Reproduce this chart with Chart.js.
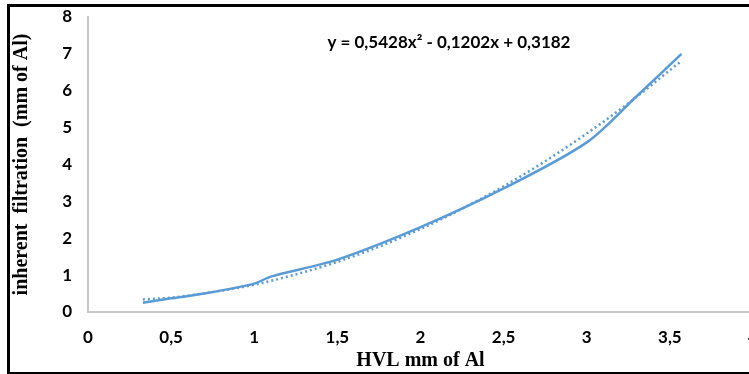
<!DOCTYPE html>
<html>
<head>
<meta charset="utf-8">
<script src="https://cdn.jsdelivr.net/npm/chart.js@4/dist/chart.umd.min.js"></script>
<style>
  html, body { margin: 0; padding: 0; background: #fff; overflow: hidden; }
  body { width: 749px; height: 374px; position: relative; }
  #wrap { position: absolute; left: 0; top: 0; width: 772px; height: 374px; }
  #frame { position: absolute; left: 7px; top: 4px; width: 780px; height: 365px;
           border: 3px solid #000; border-right: none; pointer-events: none; }
</style>
</head>
<body>
<div id="wrap"><canvas id="myChart" width="772" height="374"></canvas></div>
<div id="frame"></div>
<script>
// measured points (HVL vs inherent filtration)
var hvl = [0.33, 0.5, 0.7, 1.0, 1.1, 1.5, 2.0, 2.5, 3.0, 3.3, 3.57];
var filtration = [0.25, 0.37, 0.5, 0.77, 0.96, 1.42, 2.3, 3.35, 4.6, 5.85, 7.0];

// polynomial trendline
var trendX = [0.33, 0.5, 0.75, 1.0, 1.25, 1.5, 1.75, 2.0, 2.25, 2.5, 2.75, 3.0, 3.25, 3.57];
var trendY = [0.34, 0.39, 0.54, 0.74, 1.02, 1.36, 1.77, 2.25, 2.80, 3.41, 4.09, 4.84, 5.66, 6.81];

var xTicks = ['0', '0,5', '1', '1,5', '2', '2,5', '3', '3,5', '4'];
var equation = 'y = 0,5428x² - 0,1202x + 0,3182';

var blue = '#5b9bd5';
var tickFont = { family: 'Lato', size: 17, weight: 'bold' };
var titleFont = { family: 'Liberation Serif', size: 20, weight: 'bold' };

var equationLabel = {
    id: 'equationLabel',
    afterDraw: function(chart) {
        var ctx = chart.ctx;
        var x = chart.scales.x.getPixelForValue(1.44);
        var y = chart.scales.y.getPixelForValue(7.32);
        ctx.save();
        ctx.font = 'bold 17px Lato';
        ctx.fillStyle = '#000';
        ctx.textBaseline = 'middle';
        ctx.fillText(equation, x, y);
        ctx.restore();
    }
};

var ctx = document.getElementById('myChart').getContext('2d');
var chart = new Chart(ctx, {
    type: 'scatter',
    data: {
        datasets: [
            {
                label: 'data',
                data: hvl.map(function(v, i) { return { x: v, y: filtration[i] }; }),
                showLine: true,
                borderColor: blue,
                backgroundColor: blue,
                borderWidth: 2.5,
                pointRadius: 0,
                tension: 0.3
            },
            {
                label: 'trend',
                data: trendX.map(function(v, i) { return { x: v, y: trendY[i] }; }),
                showLine: true,
                borderColor: blue,
                borderWidth: 2.5,
                borderDash: [2, 3],
                pointRadius: 0,
                cubicInterpolationMode: 'monotone'
            }
        ]
    },
    options: {
        responsive: false,
        animation: false,
        layout: { padding: { left: 0, top: 17, right: 19, bottom: 0 } },
        plugins: { legend: { display: false }, tooltip: { enabled: false } },
        scales: {
            x: {
                type: 'linear',
                min: 0, max: 4,
                grid: { display: false, drawTicks: false },
                border: { display: true, color: '#c8c8c8', width: 2 },
                ticks: {
                    stepSize: 0.5,
                    padding: 15,
                    color: '#000',
                    font: tickFont,
                    maxRotation: 0,
                    callback: function(v) { return xTicks[Math.round(v * 2)]; }
                },
                title: { display: true, text: 'HVL mm of Al', color: '#000', font: titleFont, padding: { top: 0, bottom: 1 } },
                afterFit: function(s) { s.height = 62; s.paddingLeft = 0; s.paddingRight = 0; }
            },
            y: {
                min: 0, max: 8,
                grid: { display: false, drawTicks: false },
                border: { display: true, color: '#c8c8c8', width: 2 },
                ticks: { stepSize: 1, padding: 16, color: '#000', font: tickFont },
                title: { display: true, text: 'inherent  filtration  (mm of Al)', color: '#000', font: titleFont, padding: { top: 10, bottom: 0 } },
                afterFit: function(s) { s.width = 88; s.paddingTop = 0; s.paddingBottom = 0; }
            }
        }
    },
    plugins: [equationLabel]
});
</script>
</body>
</html>
